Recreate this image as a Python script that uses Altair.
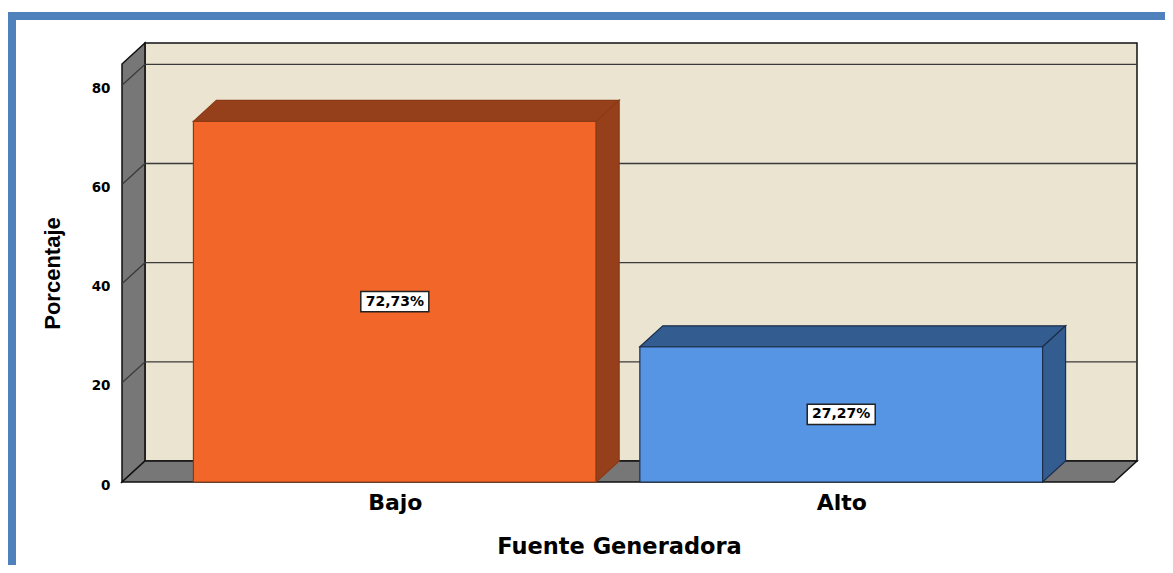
import json
import altair as alt
import pandas as pd

# ---------------- data ----------------
categories = ["Bajo", "Alto"]
percentages = [72.73, 27.27]
value_labels = ["72,73%", "27,27%"]
y_ticks = [0, 20, 40, 60, 80]

# ---------------- styles ----------------
front_colors = ["#F26729", "#5595E3"]
dark_colors = ["#96401B", "#335C91"]
edge_colors = ["#8A3A16", "#1C2E48"]
WALL_GRAY = "#777777"
BACK_BEIGE = "#EAE4D0"
FRAME_BLUE = "#4F81BD"

# geometry constants (pseudo-3D depth)
FRAME_W = 2.0      # front frame width in x units
FRAME_TOP = 84.3   # top of front frame (y units)
DX = 0.0463        # depth in x units
DY = 4.23          # depth in y units
BAR_STEP = 0.9
BAR_W = 0.812
PLOT_W, PLOT_H = 1015, 439

n = len(categories)
centers = [FRAME_W / 2 + (i - (n - 1) / 2) * BAR_STEP for i in range(n)]

bars = pd.DataFrame({
    "cat": categories,
    "value": percentages,
    "label": value_labels,
    "center": centers,
})
bars["x0"] = bars["center"] - BAR_W / 2
bars["x1"] = bars["center"] + BAR_W / 2
bars["base"] = 0.0
bars["mid"] = bars["value"] / 2

face_rows = []
for _, r in bars.iterrows():
    v, x0, x1 = r["value"], r["x0"], r["x1"]
    k = r["cat"]
    face_rows += [
        {"cat": k, "face": k + "-top", "x": x0, "y": v, "y2": v},
        {"cat": k, "face": k + "-top", "x": x0 + DX, "y": v + DY, "y2": v},
        {"cat": k, "face": k + "-top", "x": x1, "y": v + DY, "y2": v},
        {"cat": k, "face": k + "-top", "x": x1 + DX, "y": v + DY, "y2": v + DY},
        {"cat": k, "face": k + "-side", "x": x1, "y": v, "y2": 0},
        {"cat": k, "face": k + "-side", "x": x1 + DX, "y": v + DY, "y2": DY},
    ]
faces = pd.DataFrame(face_rows)

walls = pd.DataFrame([
    {"shape": "left", "x": 0, "y": FRAME_TOP, "y2": 0},
    {"shape": "left", "x": DX, "y": FRAME_TOP + DY, "y2": DY},
    {"shape": "floor", "x": 0, "y": 0, "y2": 0},
    {"shape": "floor", "x": DX, "y": DY, "y2": 0},
    {"shape": "floor", "x": FRAME_W, "y": DY, "y2": 0},
    {"shape": "floor", "x": FRAME_W + DX, "y": DY, "y2": DY},
])

back = pd.DataFrame([{"x": DX, "x2": FRAME_W + DX, "y": DY, "y2": FRAME_TOP + DY}])

grid_rows = []
for t in y_ticks[1:]:
    grid_rows += [
        {"g": t, "x": 0, "y": t},
        {"g": t, "x": DX, "y": t + DY},
        {"g": t, "x": FRAME_W + DX, "y": t + DY},
    ]
grid = pd.DataFrame(grid_rows)

xs = alt.Scale(domain=[0, FRAME_W + DX], nice=False, zero=False)
ys = alt.Scale(domain=[0, FRAME_TOP + DY], nice=False, zero=False)
cat_fill = alt.Scale(domain=categories, range=front_colors)
cat_dark = alt.Scale(domain=categories, range=dark_colors)
cat_edge = alt.Scale(domain=categories, range=edge_colors)

label_expr = f"{json.dumps(categories)}[round((datum.value - {centers[0]}) / {BAR_STEP})]"

x_axis = alt.Axis(values=centers, labelExpr=label_expr, domain=False,
                  ticks=False, tickSize=0, grid=False, labelPadding=10,
                  labelFont="DejaVu Sans", labelFontWeight="bold",
                  labelFontSize=22, labelColor="#000000",
                  titleFont="DejaVu Sans", titleFontWeight="bold",
                  titleFontSize=22.5, titleColor="#000000",
                  titleX=497, titleY=71, titleBaseline="alphabetic",
                  titleAlign="center")
y_axis = alt.Axis(values=y_ticks, domain=False, ticks=False, tickSize=0,
                  grid=False, labelPadding=12, labelOffset=3,
                  labelFont="DejaVu Sans", labelFontWeight="bold",
                  labelFontSize=13.5, labelColor="#000000",
                  titleFont="Liberation Sans", titleFontWeight="bold",
                  titleFontSize=22, titleColor="#000000",
                  titleX=-70, titleY=230, titleAngle=-90,
                  titleAlign="center", titleBaseline="middle")
X_TITLE = "Fuente Generadora"
Y_TITLE = "Porcentaje"


def X(field):
    return alt.X(field, scale=xs, axis=x_axis, title=X_TITLE)


def Y(field, **kw):
    return alt.Y(field, scale=ys, axis=y_axis, title=Y_TITLE, **kw)


back_wall = alt.Chart(back).mark_rect(
    fill=BACK_BEIGE, stroke="#111111", strokeWidth=1.5
).encode(x=X("x:Q"), x2="x2:Q", y=Y("y:Q"), y2="y2:Q")

wall_layer = alt.Chart(walls).mark_area(
    fill=WALL_GRAY, stroke="#111111", strokeWidth=1.5, opacity=1, interpolate="linear"
).encode(x=X("x:Q"), y=Y("y:Q", stack=None), y2="y2:Q", detail="shape:N")

grid_layer = alt.Chart(grid).mark_line(
    color="#3a3a3a", strokeWidth=1.3
).encode(x=X("x:Q"), y=Y("y:Q"), detail="g:N")

bar_front = alt.Chart(bars).mark_rect(strokeWidth=1.2).encode(
    x=X("x0:Q"), x2="x1:Q", y=Y("value:Q"), y2="base:Q",
    fill=alt.Fill("cat:N", scale=cat_fill, legend=None),
    stroke=alt.Stroke("cat:N", scale=cat_edge, legend=None),
)

bar_faces = alt.Chart(faces).mark_area(
    strokeWidth=1.2, opacity=1, interpolate="linear"
).encode(
    x=X("x:Q"), y=Y("y:Q", stack=None), y2="y2:Q", detail="face:N",
    fill=alt.Fill("cat:N", scale=cat_dark, legend=None),
    stroke=alt.Stroke("cat:N", scale=cat_edge, legend=None),
)

box_path = "M-1,-0.3H1V0.3H-1Z"
label_box = alt.Chart(bars).mark_point(
    shape=box_path, size=4624, filled=True, fill="#FFFFFF", stroke="#222222",
    strokeWidth=1.5, opacity=1
).encode(x=X("center:Q"), y=Y("mid:Q"))

label_text = alt.Chart(bars).mark_text(
    font="DejaVu Sans", fontWeight="bold", fontSize=14, color="#000000",
    align="center", baseline="middle"
).encode(x=X("center:Q"), y=Y("mid:Q"), text="label:N")

# blue frame around the whole figure (decoration, pixel-placed)
frame_top = alt.Chart(pd.DataFrame({"a": [0]})).mark_rule(
    color=FRAME_BLUE, strokeWidth=8, strokeCap="butt"
).encode(x=alt.value(-114), x2=alt.value(1100), y=alt.value(-27))
frame_left = alt.Chart(pd.DataFrame({"a": [0]})).mark_rule(
    color=FRAME_BLUE, strokeWidth=8, strokeCap="butt"
).encode(x=alt.value(-110), y=alt.value(-31), y2=alt.value(600))

chart = alt.layer(
    back_wall, wall_layer, grid_layer, bar_front, bar_faces, label_box, label_text,
    frame_top, frame_left,
).resolve_scale(fill="independent", stroke="independent").properties(
    width=PLOT_W,
    height=PLOT_H,
    autosize=alt.AutoSizeParams(type="none"),
    padding={"left": 114, "top": 35, "right": 28, "bottom": 83},
    background="#FFFFFF",
).configure_view(stroke=None)

chart.save("out.html", embed_options={"renderer": "svg", "actions": False})
